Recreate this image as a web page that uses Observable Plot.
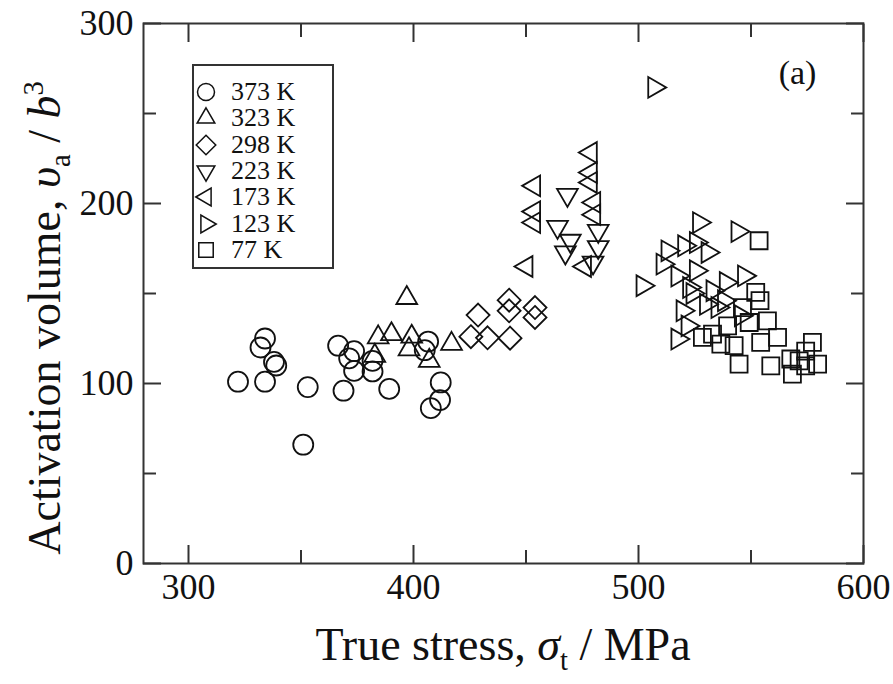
<!DOCTYPE html>
<html>
<head>
<meta charset="utf-8">
<script src="https://cdn.jsdelivr.net/npm/d3@7"></script>
<script src="https://cdn.jsdelivr.net/npm/@observablehq/plot@0.6"></script>
<style>
  html, body { margin: 0; padding: 0; background: #fff; }
  #wrap { position: relative; width: 893px; height: 684px; font-family: "Liberation Serif", "DejaVu Serif", serif; color: #111; }
  #wrap svg { position: absolute; left: 0; top: 0; }
  .ov { position: absolute; white-space: nowrap; }
  #xtitle { font-size: 46px; left: 503px; top: 622px; transform: translateX(-50%); line-height: 1; }
  #ytitle { font-size: 46px; left: 48px; top: 318px; transform: translate(-50%, -50%) rotate(-90deg); line-height: 1; }
  #legend { left: 192px; top: 64px; width: 142px; height: 205px; border: 2px solid #333; box-sizing: border-box; background: #fff; }
  .lrow { position: absolute; left: 0; height: 24px; font-size: 26px; line-height: 24px; }
  .lrow svg { position: absolute; left: 9px; top: 0; }
  .lrow span { position: absolute; left: 37px; top: 0; }
  sub, sup { font-size: 62%; }
</style>
</head>
<body>
<div id="wrap"></div>
<script>
// ---- data (x = true stress / MPa, y = activation volume / b^3) ----
const temps = ["373 K", "323 K", "298 K", "223 K", "173 K", "123 K", "77 K"];

const s373 = [[322,101],[332,120],[334,125],[334,101],[338,112],[339,110],[353,98],[351,66],
  [366.5,121],[373.6,118],[371.4,114],[373.6,107],[381.8,112.6],[381.8,106.7],[368.9,96],
  [389.2,97],[406.5,123.3],[405,118.5],[412.1,100.6],[411.8,90.8],[407.7,86.3]];
const s323 = [[384.3,125.6],[390.2,127.4],[399.2,126],[398,119],[407,112.6],[416.9,122],
  [382.8,115.4],[397,147.5]];
const s298 = [[425.5,126],[428.7,138],[432.9,125.4],[442.9,125.2],[442.5,146.3],[442.5,140.4],
  [454,142.2],[454,136.7]];
const s223 = [[468.4,204.8],[464,187],[469.7,179.3],[467.5,172.8],[482.1,184.8],[482.1,175.8],
  [479.8,167.2]];
const s173 = [[450.2,165],[453.6,209.8],[453.6,195.5],[453.6,189.4],[476.2,165],[478.8,228.3],
  [478.8,217.2],[478.8,211.7],[480.3,200.6],[480.3,193.8]];
const s123 = [[507,264.5],[501.8,154.3],[526.9,189.4],[544,184.4],[512.9,173.7],[520.3,176.5],
  [525.5,178.3],[530.7,172.8],[510.7,166.3],[517.3,159.7],[525.5,162.6],[522.5,153.3],
  [538.8,156.1],[546.9,159.8],[519.6,140.4],[535.1,142.2],[530,144],[538,146],[545.5,137.6],
  [521.8,132],[517.3,124.7],[524,150],[532.9,151.5]];
const s77 = [[553.6,179.3],[552.1,150.6],[554,146],[546.2,142.2],[557.3,134.8],[549.2,133.9],
  [539.6,132],[561.8,125.6],[554.3,122.8],[542.5,121],[536.6,121.9],[528.4,125.6],[532.9,127.4],
  [544.7,110.8],[558.8,109.8],[577.3,122.8],[567.7,113.6],[571.4,112.6],[574.3,109.8],
  [579.6,110.8],[568.4,105.2],[574.3,118]];

const xMajor = [300, 400, 500, 600];
const xMinor = [350, 450, 550];
const yMajor = [0, 100, 200, 300];
const yMinor = [50, 150, 250];

// ---- symbols ----
function triangle(angle) {
  return {draw(ctx, size) {
    const R = Math.sqrt(size / Math.PI) * 1.2;
    for (let k = 0; k < 3; k++) {
      const a = angle + k * 2 * Math.PI / 3;
      const px = R * Math.cos(a), py = R * Math.sin(a);
      if (k === 0) ctx.moveTo(px, py); else ctx.lineTo(px, py);
    }
    ctx.closePath();
  }};
}
const symCircle = {draw(ctx, size) { const r = Math.sqrt(size / Math.PI); ctx.moveTo(r, 0); ctx.arc(0, 0, r, 0, 2 * Math.PI); }};
const symSquare = {draw(ctx, size) { const h = Math.sqrt(size / Math.PI) * 0.85; ctx.rect(-h, -h, 2 * h, 2 * h); }};
const symDiamond = {draw(ctx, size) { const h = Math.sqrt(size / Math.PI) * 1.15; ctx.moveTo(0, -h); ctx.lineTo(h, 0); ctx.lineTo(0, h); ctx.lineTo(-h, 0); ctx.closePath(); }};
const symbols = [symCircle, triangle(-Math.PI / 2), symDiamond, triangle(Math.PI / 2),
  triangle(Math.PI), triangle(0), symSquare];
const series = [s373, s323, s298, s223, s173, s123, s77];

const R = 10;
const dotMarks = series.map((s, i) => Plot.dot(s, {
  x: d => d[0], y: d => d[1], symbol: symbols[i], r: R,
  stroke: "#111", strokeWidth: 1.8, fill: "none"
}));

const tickFont = {fontSize: 36, fontFamily: "Liberation Serif"};
const tickStyle = {tickFormat: () => "", label: null, stroke: "#333", strokeWidth: 2};

const chart = Plot.plot({
  width: 893, height: 684,
  marginLeft: 143, marginRight: 30, marginTop: 23, marginBottom: 121,
  style: {fontFamily: "Liberation Serif", background: "transparent", color: "#111"},
  x: {domain: [280, 600], axis: null},
  y: {domain: [0, 300], axis: null},
  marks: [
    ...dotMarks,
    // inward ticks on all four sides
    Plot.axisX(xMajor, {anchor: "bottom", tickSize: -18, ...tickStyle}),
    Plot.axisX(xMinor, {anchor: "bottom", tickSize: -13, ...tickStyle}),
    Plot.axisX(xMajor, {anchor: "top", tickSize: -18, ...tickStyle}),
    Plot.axisX(xMinor, {anchor: "top", tickSize: -13, ...tickStyle}),
    Plot.axisY(yMajor, {anchor: "left", tickSize: -18, ...tickStyle}),
    Plot.axisY(yMinor, {anchor: "left", tickSize: -13, ...tickStyle}),
    Plot.axisY(yMajor, {anchor: "right", tickSize: -18, ...tickStyle}),
    Plot.axisY(yMinor, {anchor: "right", tickSize: -13, ...tickStyle}),
    // tick labels
    Plot.axisX(xMajor, {anchor: "bottom", tickSize: 0, tickPadding: 10, label: null, ...tickFont, fill: "#111"}),
    Plot.axisY(yMajor, {anchor: "left", tickSize: 0, tickPadding: 10, label: null, ...tickFont, fill: "#111"}),
    Plot.frame({stroke: "#333", strokeWidth: 2}),
    Plot.text(["(a)"], {frameAnchor: "top-right", dx: -66, dy: 36, text: d => d, fontSize: 34, fontFamily: "Liberation Serif", fill: "#111", textAnchor: "middle"})
  ]
});

const wrap = document.getElementById("wrap");
wrap.appendChild(chart);

// axis titles
const xt = document.createElement("div");
xt.className = "ov"; xt.id = "xtitle";
xt.innerHTML = 'True stress, <i>σ</i><sub>t</sub> / MPa';
wrap.appendChild(xt);
const yt = document.createElement("div");
yt.className = "ov"; yt.id = "ytitle";
yt.innerHTML = 'Activation volume, <i>υ</i><sub>a</sub> / <i>b</i><sup>3</sup>';
wrap.appendChild(yt);

// legend
const lg = document.createElement("div");
lg.className = "ov"; lg.id = "legend";
temps.forEach((t, i) => {
  const row = document.createElement("div");
  row.className = "lrow";
  row.style.top = (14 + i * 26.3) + "px";
  const svg = d3.create("svg").attr("width", 24).attr("height", 24);
  const p = d3.path();
  symbols[i].draw(p, Math.PI * 8.5 * 8.5);
  svg.append("path").attr("transform", "translate(12,12)").attr("d", p.toString())
    .attr("fill", "none").attr("stroke", "#111").attr("stroke-width", 1.5);
  row.appendChild(svg.node());
  const sp = document.createElement("span");
  sp.textContent = t;
  row.appendChild(sp);
  lg.appendChild(row);
});
wrap.appendChild(lg);
</script>
</body>
</html>
